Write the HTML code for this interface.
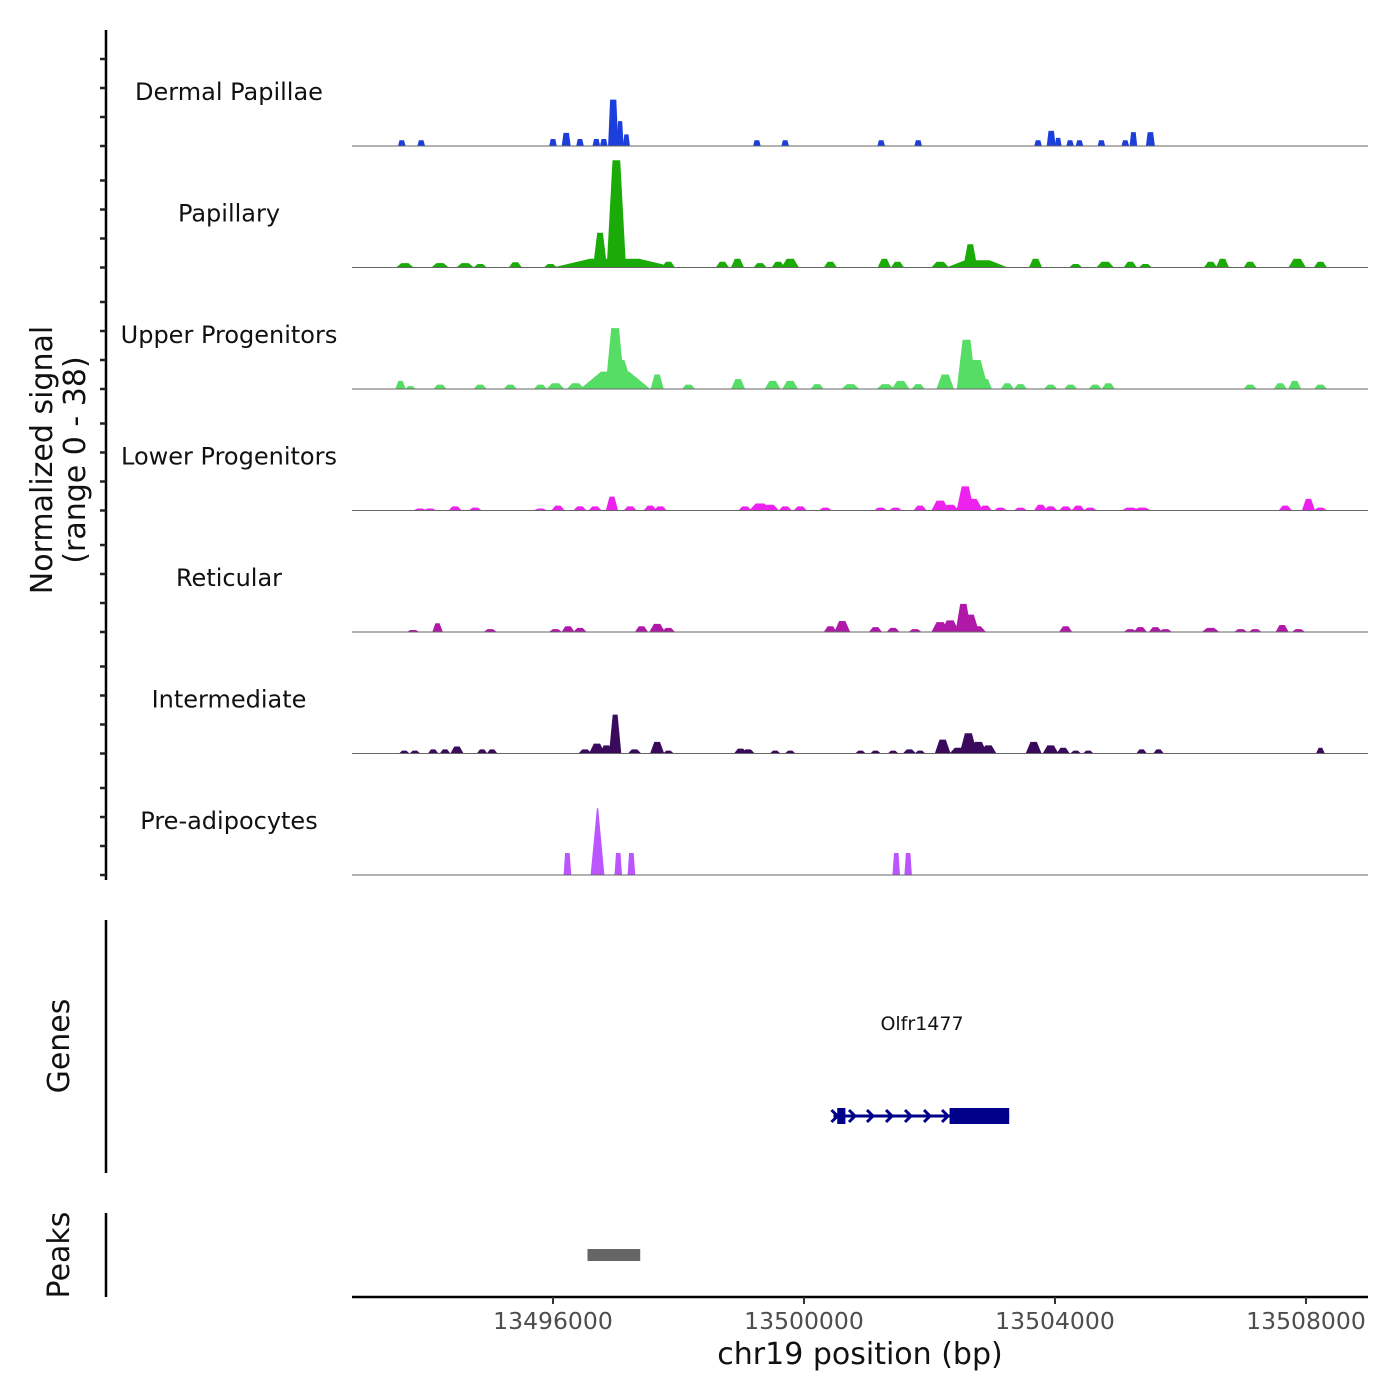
<!DOCTYPE html>
<html><head><meta charset="utf-8"><style>
html,body{margin:0;padding:0;background:#fff}
svg{display:block;font-family:"DejaVu Sans","Liberation Sans",sans-serif}
</style></head><body>
<svg id="chart" width="1400" height="1400" viewBox="0 0 1400 1400">
<g id="marks"></g>
<g>
<line x1="106" y1="30" x2="106" y2="880" stroke="#000" stroke-width="2.5"/>
<g id="yticks"></g>
</g>
<text transform="translate(52,460) rotate(-90)" text-anchor="middle" font-size="30" fill="#111">Normalized signal</text>
<text transform="translate(85,460) rotate(-90)" text-anchor="middle" font-size="30" fill="#111">(range 0 - 38)</text>
<line x1="106" y1="920" x2="106" y2="1173" stroke="#000" stroke-width="2.5"/>
<text transform="translate(69,1046) rotate(-90)" text-anchor="middle" font-size="30" fill="#111">Genes</text>
<line x1="106" y1="1213" x2="106" y2="1297" stroke="#000" stroke-width="2.5"/>
<text transform="translate(69,1255) rotate(-90)" text-anchor="middle" font-size="30" fill="#111">Peaks</text>
<text x="922" y="1030" text-anchor="middle" font-size="19" fill="#111">Olfr1477</text>
<g id="gene"></g>
<g id="peaks"></g>
<line x1="352" y1="1297" x2="1368" y2="1297" stroke="#000" stroke-width="2.5"/>
<g id="xticks"></g>
<text x="860" y="1364" text-anchor="middle" font-size="30" fill="#111">chr19 position (bp)</text>
</svg>
<script>
// positions in kb
const trackNames=["Dermal Papillae","Papillary","Upper Progenitors","Lower Progenitors","Reticular","Intermediate","Pre-adipocytes"];
const trackColors=["#1c3fdc","#1aab08","#55dd66","#ee22ee","#b019a8","#3a0a5c","#bb55ff"];
const dpPos=[13493.59,13493.90,13496.00,13496.21,13496.43,13496.69,13496.81,13496.96,13497.07,13497.17,13499.25,13499.70,13501.23,13501.82,13503.73,13503.94,13504.05,13504.24,13504.39,13504.74,13505.12,13505.25,13505.52];
const dpVal=[2,2,2.4,4.5,2.4,2.4,2.4,16,8.6,4,2,2,2,2,2,5.2,2.8,2,2,2,2,4.8,4.8];
const dpWid=[110,110,110,130,110,110,110,150,100,100,110,110,110,110,110,130,100,110,110,110,110,110,130];
const paPos=[13493.64,13494.20,13494.60,13494.84,13495.40,13495.96,13496.98,13496.75,13497.01,13497.39,13497.84,13498.70,13498.94,13499.30,13499.59,13499.78,13500.42,13501.28,13501.49,13502.17,13502.65,13502.76,13503.69,13504.33,13504.80,13505.20,13505.44,13506.48,13506.67,13507.11,13507.86,13508.23];
const paVal=[1.5,1.5,1.5,1.2,1.8,1.2,3,12,37,2,2,2,3,1.5,2,3,2,3,2,2,8,2.5,3,1.2,2,2,1.2,2,3,2,3,2];
const paWid=[200,200,200,150,150,150,1400,160,220,150,150,150,150,150,150,200,150,150,150,200,160,700,150,150,200,150,150,150,150,150,200,150];
const upPos=[13496.99,13496.99,13497.04,13497.66,13493.57,13493.73,13494.20,13494.84,13495.32,13495.80,13496.04,13496.36,13497.39,13498.16,13498.95,13499.50,13499.78,13500.21,13500.74,13501.30,13501.54,13501.82,13502.25,13502.59,13502.73,13502.89,13503.24,13503.45,13503.93,13504.25,13504.64,13504.85,13507.11,13507.59,13507.82,13508.23];
const upVal=[21,6,10,5,2.8,1,1.5,1.5,1.5,1.5,2,2,2,1.5,3.4,2.8,2.8,1.7,1.7,1.7,2.8,1.7,5,17,10,3.4,2,1.7,1.5,1.5,1.5,2,1.5,2,2.8,1.5];
const upWid=[220,800,350,150,120,120,150,150,150,150,200,200,150,150,160,180,180,150,200,200,200,150,200,220,300,150,150,150,150,150,150,150,150,150,150,150];
const loPos=[13493.88,13494.04,13494.44,13494.76,13495.80,13496.08,13496.43,13496.67,13496.94,13497.23,13497.55,13497.71,13499.06,13499.30,13499.46,13499.70,13499.94,13500.34,13501.22,13501.46,13501.85,13502.17,13502.33,13502.57,13502.68,13502.89,13503.13,13503.45,13503.77,13503.93,13504.17,13504.37,13504.56,13505.20,13505.39,13507.67,13508.04,13508.23];
const loVal=[0.7,0.7,1.4,1,0.7,1.7,1.4,1.4,4.8,1.4,1.7,1.4,1.4,2.4,2,1.4,1.4,1,1,1,1.7,3.4,2,8.3,4,1.7,1,1,2,1.4,1.4,1.7,1,1,1,1.7,4,1];
const loWid=[150,150,150,150,150,150,150,150,140,150,150,150,150,250,200,150,150,150,150,150,150,200,200,200,250,150,150,150,150,150,150,150,150,200,200,150,150,150];
const rePos=[13493.77,13494.16,13495.00,13496.04,13496.24,13496.43,13497.41,13497.66,13497.84,13500.42,13500.61,13501.14,13501.42,13501.77,13502.17,13502.33,13502.54,13502.65,13502.76,13504.17,13505.20,13505.36,13505.60,13505.76,13506.48,13506.96,13507.19,13507.62,13507.88];
const reVal=[0.7,3,1,1,2,1.4,2,2.8,1.4,2,3.8,1.7,1.4,1,3.4,4,9.7,6,2,2,1,1.7,1.7,1,1.4,1,1,2.4,1];
const reWid=[150,120,150,150,150,150,150,180,150,150,180,150,150,150,200,200,180,200,200,150,150,150,150,150,200,150,150,150,150];
const inPos=[13493.63,13493.80,13494.09,13494.28,13494.47,13494.87,13495.03,13496.51,13496.70,13496.85,13496.99,13497.30,13497.66,13497.84,13498.99,13499.11,13499.54,13499.78,13500.90,13501.14,13501.42,13501.68,13501.85,13502.21,13502.46,13502.62,13502.78,13502.94,13503.66,13503.93,13504.13,13504.33,13504.53,13505.38,13505.65,13508.23];
const inVal=[1,1,1.4,1.4,2.4,1.4,1.4,1.4,3.4,2.8,13.4,1.4,4,1,1.7,1.4,1,1,1,1,1,1.4,1,4.8,2,7,4,2.8,4,2.8,2,1,1,1.4,1.4,2];
const inWid=[120,120,120,120,150,120,120,150,180,150,140,150,160,120,150,150,120,120,120,120,120,150,120,180,200,200,200,180,180,180,150,120,120,120,120,100];
const prPos=[13496.23,13496.71,13497.04,13497.25,13501.47,13501.66];
const prVal=[7.6,23,7.6,7.6,7.6,7.6];
const prWid=[110,200,110,110,110,110];
const geneStart=13500.47, geneEnd=13503.27;
const exonStarts=[13500.53,13502.32];
const exonEnds=[13500.66,13503.27];
const peakStarts=[13496.55];
const peakEnds=[13497.39];
const xTickVals=[13496000,13500000,13504000,13508000];

const NS="http://www.w3.org/2000/svg";
const X0=352,X1=1368,D0=13492.797,PXKB=62.75,PXU=2.9;
function xs(kb){return X0+(kb-D0)*PXKB;}
function ys(base,v){return base-v*PXU;}
function mk(tag,attrs,parent){const e=document.createElementNS(NS,tag);for(const k in attrs)e.setAttribute(k,attrs[k]);parent.appendChild(e);return e;}
const marks=document.getElementById('marks');
const tracks=[[dpPos,dpVal,dpWid,0.6,1.1],[paPos,paVal,paWid,0.4,1.4],[upPos,upVal,upWid,0.4,1.4],[loPos,loVal,loWid,0.4,1.4],[rePos,reVal,reWid,0.4,1.4],[inPos,inVal,inWid,0.4,1.4],[prPos,prVal,prWid,0.6,1.1]];
const yt=document.getElementById('yticks');
tracks.forEach((t,i)=>{
  const base=146+i*121.5;
  const g=mk('g',{},marks);
  
  
  const [pos,val,wid,tf,ws]=t;
  pos.forEach((p,j)=>{
    const cx=xs(p),hw=wid[j]*ws*PXKB/1000/2;
    const top=ys(base,val[j]);
    const f=(i===6&&val[j]>10)?0.1:tf;
    const pts=[[cx-hw,base],[cx-hw*f,top],[cx+hw*f,top],[cx+hw,base]].map(a=>a[0].toFixed(1)+','+a[1].toFixed(1)).join(' ');
    const pg=mk('polygon',{points:pts,fill:trackColors[i]},g);
    
    
  });
  const bl=mk('line',{x1:X0,x2:X1,y1:base,y2:base,stroke:'#666','stroke-width':1},g);
  
  
  const lb=mk('text',{x:229,y:base-46,'text-anchor':'middle','font-size':24,fill:'#111'},g);
  lb.textContent=trackNames[i];
  
  
  for(let k=0;k<4;k++){
    const ty=base-k*29;
    const tk=mk('line',{x1:100,x2:106,y1:ty,y2:ty,stroke:'#222','stroke-width':2.5},yt);
    
    
  }
});
// gene
const gg=document.getElementById('gene');
const gy=1116;
mk('line',{x1:xs(geneStart),x2:xs(geneEnd),y1:gy,y2:gy,stroke:'#00008b','stroke-width':3},gg);
exonStarts.forEach((s,i)=>{
  const r=mk('rect',{x:xs(s),y:gy-8,width:xs(exonEnds[i])-xs(s),height:16,fill:'#00008b'},gg);
  
  
});
const chev=[853,871,890,909,928,946];
chev.forEach(cx=>{mk('polyline',{points:`${cx-4},${gy-6} ${cx+2},${gy} ${cx-4},${gy+6}`,fill:'none',stroke:'#00008b','stroke-width':3},gg);});
mk('polyline',{points:`${xs(geneStart)-2},${gy-6} ${xs(geneStart)+4},${gy} ${xs(geneStart)-2},${gy+6}`,fill:'none',stroke:'#00008b','stroke-width':3},gg);
// peaks
const pk=document.getElementById('peaks');
peakStarts.forEach((s,i)=>{
  const r=mk('rect',{x:xs(s),y:1249,width:xs(peakEnds[i])-xs(s),height:12,fill:'#666'},pk);
  
  
});
// x ticks
const xt=document.getElementById('xticks');
xTickVals.forEach(v=>{
  const x=xs(v/1000);
  const l=mk('line',{x1:x,x2:x,y1:1297,y2:1304,stroke:'#333','stroke-width':2},xt);
  
  
  const t=mk('text',{x:x,y:1329,'text-anchor':'middle','font-size':23.5,fill:'#4d4d4d'},xt);
  t.textContent=String(v);
  
  
});
</script>
</body></html>
